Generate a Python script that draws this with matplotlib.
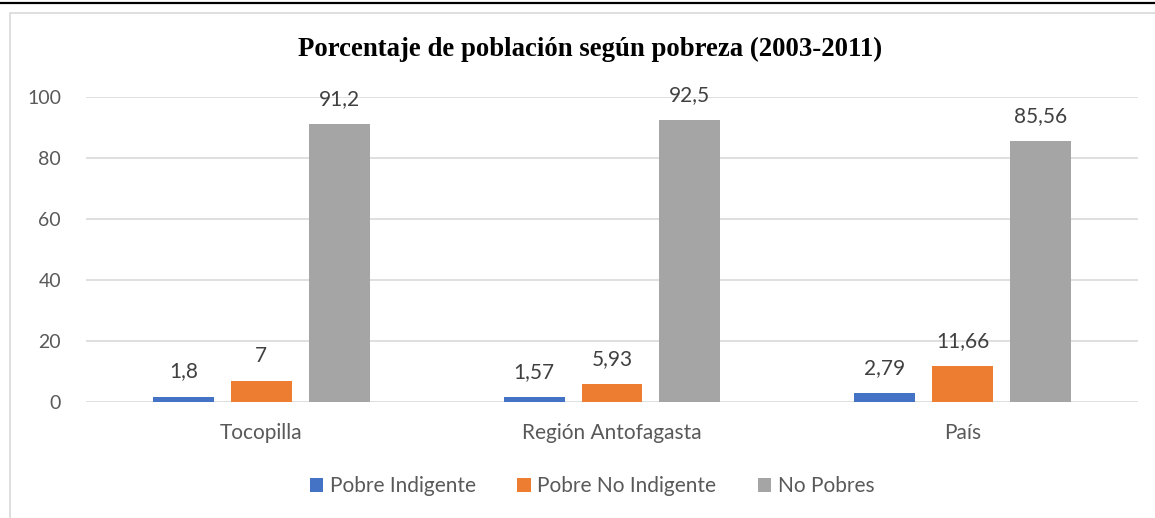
import numpy as np
import matplotlib.pyplot as plt
from matplotlib.patches import Rectangle
from matplotlib.lines import Line2D

categories = ['Tocopilla', 'Región Antofagasta', 'País']
series_names = ['Pobre Indigente', 'Pobre No Indigente', 'No Pobres']
pobre_indigente = [1.8, 1.57, 2.79]
pobre_no_indigente = [7, 5.93, 11.66]
no_pobres = [91.2, 92.5, 85.56]
value_labels = [['1,8', '1,57', '2,79'], ['7', '5,93', '11,66'], ['91,2', '92,5', '85,56']]
colors = ['#4472c4', '#ed7d31', '#a5a5a5']

plt.rcParams['font.family'] = ['Lato', 'DejaVu Sans']

fig = plt.figure(figsize=(11.55, 5.18), dpi=100)
ax = fig.add_axes([86 / 1155, 1 - 402 / 518, (1138 - 86) / 1155, (402 - 97) / 518])

# chart frame and top rule
fig.add_artist(Rectangle((10 / 1155, -0.05), 1.1, 1 - 13 / 518 + 0.05, transform=fig.transFigure,
                         fill=False, edgecolor='#d9d9d9', linewidth=1.2))
fig.add_artist(Line2D([0, 1], [1 - 3 / 518, 1 - 3 / 518], transform=fig.transFigure,
                      color='black', linewidth=1.6))

x = np.arange(len(categories))
width = 61 / 351
step = 78 / 351
all_series = [pobre_indigente, pobre_no_indigente, no_pobres]
for i, (vals, name, col) in enumerate(zip(all_series, series_names, colors)):
    pos = x + (i - 1) * step
    ax.bar(pos, vals, width=width, color=col, label=name, zorder=3)
    for p, v, lab in zip(pos, vals, value_labels[i]):
        ax.annotate(lab, (p, v), xytext=(0, 18), textcoords='offset points',
                    ha='center', va='center', fontsize=15, color='#404040')

ax.set_xlim(-0.5, 2.5)
ax.set_ylim(0, 100)
ax.set_yticks([0, 20, 40, 60, 80, 100])
ax.set_xticks(x)
ax.set_xticklabels(categories)
ax.tick_params(axis='both', length=0, labelsize=15, labelcolor='#595959')
ax.tick_params(axis='y', labelsize=14, pad=18)
ax.tick_params(axis='x', pad=15)
ax.grid(axis='y', color='#d9d9d9', linewidth=1.2, zorder=0)
for s in ax.spines.values():
    s.set_visible(False)

fig.text(590 / 1155, 1 - 49 / 518, 'Porcentaje de población según pobreza (2003-2011)',
         ha='center', va='center', fontsize=19.3, fontweight='bold',
         family='Liberation Serif', color='black')

fig.legend(loc='center', bbox_to_anchor=(592 / 1155, 1 - 486 / 518), ncol=3, frameon=False,
           fontsize=15, labelcolor='#595959', handlelength=0.65, handleheight=0.65,
           handletextpad=0.3, columnspacing=2.0)

fig.savefig('out.png', dpi=100)
